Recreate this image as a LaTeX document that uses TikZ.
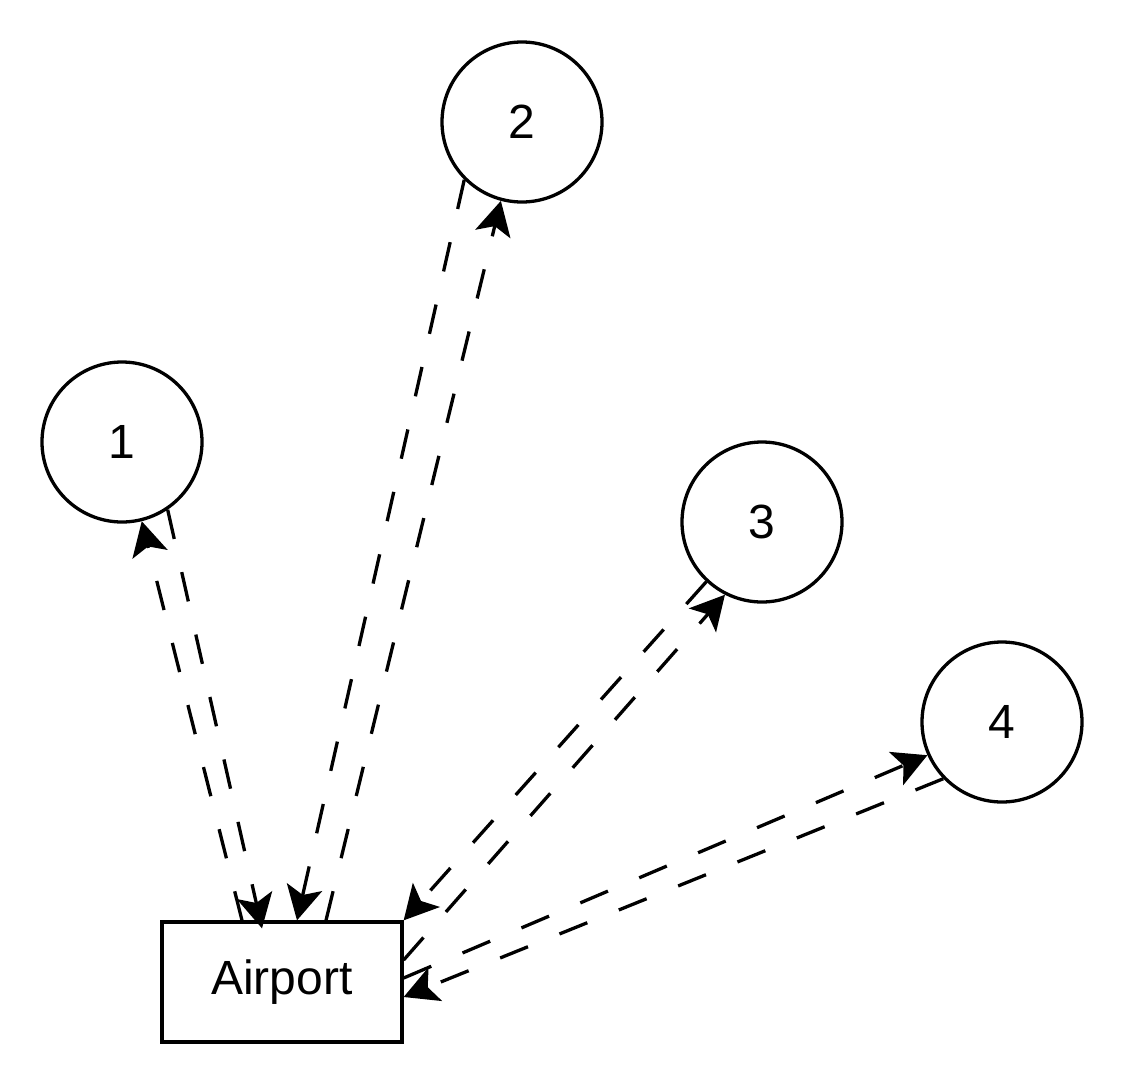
\documentclass[tikz,border=0pt]{standalone}
\usepackage{fontspec}
\setmainfont{Liberation Sans}
\usetikzlibrary{arrows.meta}
\begin{document}
\begin{tikzpicture}[x=1pt,y=-1pt,
  circ/.style={circle,draw,line width=3.3pt,minimum size=160pt,inner sep=0pt,font=\fontsize{48}{56}\selectfont},
  box/.style={rectangle,draw,line width=3.3pt,minimum width=240pt,minimum height=120pt,inner sep=0pt,font=\fontsize{48}{56}\selectfont},
  link/.style={line width=3.3pt,dash pattern=on 30pt off 34pt,-{Stealth[length=34pt,width=36pt,inset=8pt]}}]
\useasboundingbox (0,0) rectangle (1124,1084);
\node[circ] (n1) at (122,442) {1};
\node[circ] (n2) at (522,122) {2};
\node[circ] (n3) at (762,522) {3};
\node[circ] (n4) at (1002,722) {4};
\node[box] (ap) at (282,982) {Airport};
% 1 <-> Airport
\draw[link] ([xshift=-40pt]ap.north) -- (n1.-76);
\draw[link] (n1.-56) -- ([xshift=-20pt,yshift=-8pt]ap.north);
% 2 <-> Airport
\draw[link] (n2.-135) -- ([xshift=15pt]ap.north);
\draw[link] ([xshift=44pt]ap.north) -- (n2.-105);
% 3 <-> Airport
\draw[link] (n3.-133) -- (ap.north east);
\draw[link] ([yshift=22pt]ap.east) -- (n3.-117);
% 4 <-> Airport
\draw[link] ([yshift=4pt]ap.east) -- (n4.-156);
\draw[link] (n4.-136) -- ([yshift=-15pt]ap.east);
\end{tikzpicture}
\end{document}
